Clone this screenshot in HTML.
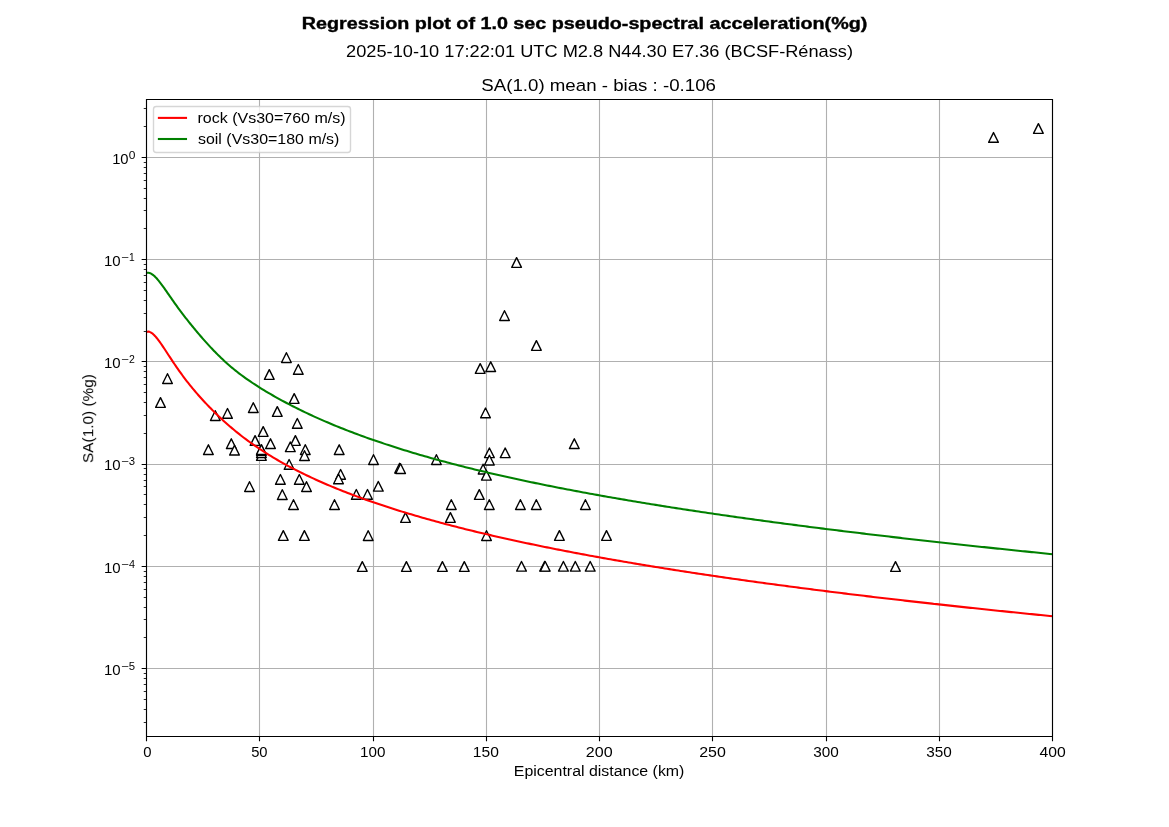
<!DOCTYPE html>
<html><head><meta charset="utf-8"><title>Regression plot</title>
<style>html,body{margin:0;padding:0;background:#fff;width:1169px;height:827px;overflow:hidden}svg{display:block}text{font-family:"Liberation Sans",sans-serif}</style></head><body>
<svg width="1169" height="827" viewBox="0 0 1169 827">
<rect x="0" y="0" width="1169" height="827" fill="#ffffff"/>
<path d="M146.5 99.24V736.03M259.5 99.24V736.03M373.5 99.24V736.03M486.5 99.24V736.03M599.5 99.24V736.03M712.5 99.24V736.03M826.5 99.24V736.03M939.5 99.24V736.03M1052.5 99.24V736.03M146.12 157.5H1052.10M146.12 259.5H1052.10M146.12 361.5H1052.10M146.12 464.5H1052.10M146.12 566.5H1052.10M146.12 668.5H1052.10" stroke="#b0b0b0" stroke-width="1.111" fill="none"/>
<defs><clipPath id="c"><rect x="146.125" y="99.24" width="905.975" height="636.790"/></clipPath>
<path id="m" d="M0 -4.8611L-4.8611 4.8611L4.8611 4.8611Z" fill="#ffffff" stroke="#000000" stroke-width="1.3889" stroke-linejoin="round"/></defs>
<g clip-path="url(#c)"><use href="#m" x="167.5" y="378.6"/><use href="#m" x="160.5" y="402.5"/><use href="#m" x="215.3" y="415.6"/><use href="#m" x="227.5" y="413.4"/><use href="#m" x="253.3" y="407.6"/><use href="#m" x="286.4" y="357.6"/><use href="#m" x="269.3" y="374.5"/><use href="#m" x="298.3" y="369.4"/><use href="#m" x="294.2" y="398.5"/><use href="#m" x="277.3" y="411.5"/><use href="#m" x="297.3" y="423.4"/><use href="#m" x="263.2" y="431.5"/><use href="#m" x="255.1" y="440.5"/><use href="#m" x="270.5" y="443.7"/><use href="#m" x="231.3" y="443.7"/><use href="#m" x="208.4" y="449.7"/><use href="#m" x="234.5" y="450.2"/><use href="#m" x="295.4" y="440.5"/><use href="#m" x="290.3" y="446.8"/><use href="#m" x="261.4" y="455.5"/><use href="#m" x="261.4" y="452.6"/><use href="#m" x="261.4" y="450.5"/><use href="#m" x="261.4" y="449.5"/><use href="#m" x="249.5" y="486.6"/><use href="#m" x="280.4" y="479.4"/><use href="#m" x="299.3" y="479.4"/><use href="#m" x="306.5" y="486.6"/><use href="#m" x="282.3" y="494.6"/><use href="#m" x="293.5" y="504.6"/><use href="#m" x="334.5" y="504.6"/><use href="#m" x="283.3" y="535.5"/><use href="#m" x="304.4" y="535.5"/><use href="#m" x="289.1" y="464.4"/><use href="#m" x="340.6" y="474.4"/><use href="#m" x="338.5" y="478.9"/><use href="#m" x="339.2" y="449.7"/><use href="#m" x="305.3" y="449.6"/><use href="#m" x="304.5" y="455.6"/><use href="#m" x="373.5" y="459.6"/><use href="#m" x="399.6" y="468.2"/><use href="#m" x="400.6" y="468.6"/><use href="#m" x="436.4" y="459.6"/><use href="#m" x="378.3" y="486.3"/><use href="#m" x="356.3" y="494.4"/><use href="#m" x="367.5" y="494.4"/><use href="#m" x="405.5" y="517.5"/><use href="#m" x="451.3" y="504.6"/><use href="#m" x="450.4" y="517.5"/><use href="#m" x="368.2" y="535.6"/><use href="#m" x="362.3" y="566.5"/><use href="#m" x="406.4" y="566.5"/><use href="#m" x="442.4" y="566.5"/><use href="#m" x="464.3" y="566.5"/><use href="#m" x="486.5" y="535.6"/><use href="#m" x="516.6" y="262.5"/><use href="#m" x="504.5" y="315.6"/><use href="#m" x="536.4" y="345.5"/><use href="#m" x="480.2" y="368.5"/><use href="#m" x="490.7" y="366.7"/><use href="#m" x="485.5" y="412.9"/><use href="#m" x="574.3" y="443.7"/><use href="#m" x="505.2" y="452.8"/><use href="#m" x="489.4" y="452.8"/><use href="#m" x="489.4" y="460.1"/><use href="#m" x="483.1" y="469.1"/><use href="#m" x="486.4" y="475.3"/><use href="#m" x="479.3" y="494.5"/><use href="#m" x="489.3" y="504.6"/><use href="#m" x="520.4" y="504.6"/><use href="#m" x="536.3" y="504.6"/><use href="#m" x="585.4" y="504.6"/><use href="#m" x="559.4" y="535.5"/><use href="#m" x="606.5" y="535.5"/><use href="#m" x="521.5" y="566.3"/><use href="#m" x="544.6" y="566.3"/><use href="#m" x="545.2" y="566.3"/><use href="#m" x="563.4" y="566.3"/><use href="#m" x="575.3" y="566.3"/><use href="#m" x="590.2" y="566.3"/><use href="#m" x="895.5" y="566.5"/><use href="#m" x="993.5" y="137.45"/><use href="#m" x="1038.4" y="128.5"/></g>
<path d="M146.12 332.17 L147.26 331.69 L148.39 331.61 L149.52 331.85 L150.65 332.34 L151.79 333.05 L152.92 333.94 L154.05 334.99 L155.18 336.17 L156.32 337.47 L157.45 338.86 L158.58 340.34 L159.71 341.88 L160.85 343.49 L161.98 345.13 L163.11 346.81 L164.24 348.52 L165.38 350.24 L166.51 351.97 L167.64 353.71 L168.77 355.45 L169.91 357.18 L171.04 358.90 L172.17 360.62 L173.30 362.31 L174.44 364.00 L175.57 365.66 L176.70 367.31 L177.83 368.94 L178.97 370.55 L180.10 372.14 L181.23 373.71 L182.36 375.26 L183.50 376.79 L184.63 378.30 L185.76 379.79 L186.89 381.26 L188.03 382.70 L189.16 384.13 L190.29 385.54 L191.42 386.93 L192.56 388.31 L193.69 389.67 L194.82 391.01 L195.95 392.34 L197.09 393.65 L198.22 394.94 L199.35 396.23 L200.48 397.49 L201.62 398.75 L202.75 399.99 L203.88 401.22 L205.01 402.44 L206.15 403.64 L207.28 404.84 L208.41 406.02 L209.54 407.19 L210.68 408.35 L211.81 409.50 L212.94 410.64 L214.07 411.77 L215.21 412.88 L216.34 413.99 L217.47 415.09 L218.60 416.17 L219.74 417.24 L220.87 418.31 L222.00 419.36 L223.13 420.40 L224.27 421.43 L225.40 422.45 L226.53 423.46 L227.66 424.46 L228.80 425.45 L229.93 426.43 L231.06 427.40 L232.19 428.36 L233.33 429.31 L234.46 430.25 L235.59 431.18 L236.72 432.11 L238.99 433.92 L241.25 435.70 L243.52 437.45 L245.78 439.16 L248.05 440.83 L250.31 442.48 L252.58 444.09 L254.84 445.67 L257.11 447.22 L259.37 448.74 L261.64 450.24 L263.90 451.70 L266.17 453.14 L268.43 454.56 L270.70 455.95 L272.96 457.32 L275.23 458.67 L277.49 459.99 L279.76 461.29 L282.02 462.57 L284.29 463.84 L286.55 465.08 L288.82 466.30 L291.08 467.51 L293.35 468.70 L295.61 469.87 L297.88 471.02 L300.14 472.16 L302.41 473.28 L304.67 474.39 L306.94 475.48 L309.20 476.55 L311.47 477.62 L313.73 478.67 L316.00 479.70 L318.26 480.72 L320.53 481.73 L322.79 482.73 L325.06 483.72 L327.32 484.69 L329.58 485.65 L331.85 486.60 L334.11 487.54 L336.38 488.47 L338.64 489.39 L340.91 490.30 L343.17 491.19 L345.44 492.08 L347.70 492.96 L349.97 493.83 L352.23 494.69 L354.50 495.54 L356.76 496.38 L359.03 497.22 L361.29 498.04 L363.56 498.86 L365.82 499.67 L368.09 500.47 L370.35 501.26 L372.62 502.05 L374.88 502.82 L377.15 503.59 L379.41 504.36 L381.68 505.11 L383.94 505.86 L386.21 506.61 L388.47 507.34 L390.74 508.07 L393.00 508.80 L395.27 509.51 L397.53 510.22 L399.80 510.93 L402.06 511.63 L404.33 512.32 L406.59 513.01 L408.86 513.69 L411.12 514.37 L413.39 515.04 L415.65 515.70 L417.92 516.36 L420.18 517.02 L422.45 517.67 L424.71 518.31 L426.98 518.95 L429.24 519.58 L431.51 520.21 L433.77 520.84 L436.04 521.46 L438.30 522.08 L440.57 522.69 L442.83 523.29 L445.10 523.90 L447.36 524.50 L449.63 525.09 L451.89 525.68 L454.16 526.27 L456.42 526.85 L458.69 527.43 L460.95 528.00 L463.22 528.57 L465.48 529.14 L467.75 529.70 L470.01 530.26 L472.28 530.81 L474.54 531.37 L476.81 531.91 L479.07 532.46 L481.34 533.00 L483.60 533.54 L485.87 534.07 L488.13 534.60 L490.40 535.13 L492.66 535.65 L494.93 536.18 L497.19 536.69 L499.46 537.21 L501.72 537.72 L503.99 538.23 L506.25 538.74 L508.51 539.24 L510.78 539.74 L513.04 540.24 L515.31 540.73 L517.57 541.22 L519.84 541.71 L522.10 542.20 L524.37 542.68 L526.63 543.16 L528.90 543.64 L531.16 544.11 L533.43 544.59 L535.69 545.06 L537.96 545.53 L540.22 545.99 L542.49 546.45 L544.75 546.91 L547.02 547.37 L549.28 547.83 L551.55 548.28 L553.81 548.73 L556.08 549.18 L558.34 549.63 L560.61 550.07 L562.87 550.51 L565.14 550.95 L567.40 551.39 L569.67 551.82 L571.93 552.26 L574.20 552.69 L576.46 553.12 L578.73 553.54 L580.99 553.97 L583.26 554.39 L585.52 554.81 L587.79 555.23 L590.05 555.65 L592.32 556.06 L594.58 556.48 L596.85 556.89 L599.11 557.30 L601.38 557.70 L603.64 558.11 L605.91 558.51 L608.17 558.92 L610.44 559.32 L612.70 559.71 L614.97 560.11 L617.23 560.51 L619.50 560.90 L621.76 561.29 L624.03 561.68 L626.29 562.07 L628.56 562.45 L630.82 562.84 L633.09 563.22 L635.35 563.60 L637.62 563.98 L639.88 564.36 L642.15 564.74 L644.41 565.11 L646.68 565.49 L648.94 565.86 L651.21 566.23 L653.47 566.60 L655.74 566.97 L658.00 567.33 L660.27 567.70 L662.53 568.06 L664.80 568.42 L667.06 568.79 L669.33 569.14 L671.59 569.50 L673.86 569.86 L676.12 570.21 L678.39 570.57 L680.65 570.92 L682.92 571.27 L685.18 571.62 L687.45 571.97 L689.71 572.32 L691.97 572.66 L694.24 573.01 L696.50 573.35 L698.77 573.69 L701.03 574.03 L703.30 574.37 L705.56 574.71 L707.83 575.05 L710.09 575.38 L712.36 575.72 L714.62 576.05 L716.89 576.38 L719.15 576.71 L721.42 577.04 L723.68 577.37 L725.95 577.70 L728.21 578.03 L730.48 578.35 L732.74 578.67 L735.01 579.00 L737.27 579.32 L739.54 579.64 L741.80 579.96 L744.07 580.28 L746.33 580.60 L748.60 580.91 L750.86 581.23 L753.13 581.54 L755.39 581.86 L757.66 582.17 L759.92 582.48 L762.19 582.79 L764.45 583.10 L766.72 583.41 L768.98 583.72 L771.25 584.02 L773.51 584.33 L775.78 584.63 L778.04 584.94 L780.31 585.24 L782.57 585.54 L784.84 585.84 L787.10 586.14 L789.37 586.44 L791.63 586.74 L793.90 587.04 L796.16 587.33 L798.43 587.63 L800.69 587.92 L802.96 588.22 L805.22 588.51 L807.49 588.80 L809.75 589.09 L812.02 589.38 L814.28 589.67 L816.55 589.96 L818.81 590.25 L821.08 590.53 L823.34 590.82 L825.61 591.10 L827.87 591.39 L830.14 591.67 L832.40 591.95 L834.67 592.24 L836.93 592.52 L839.20 592.80 L841.46 593.08 L843.73 593.35 L845.99 593.63 L848.26 593.91 L850.52 594.19 L852.79 594.46 L855.05 594.74 L857.32 595.01 L859.58 595.28 L861.85 595.56 L864.11 595.83 L866.38 596.10 L868.64 596.37 L870.90 596.64 L873.17 596.91 L875.43 597.17 L877.70 597.44 L879.96 597.71 L882.23 597.97 L884.49 598.24 L886.76 598.50 L889.02 598.77 L891.29 599.03 L893.55 599.29 L895.82 599.56 L898.08 599.82 L900.35 600.08 L902.61 600.34 L904.88 600.60 L907.14 600.85 L909.41 601.11 L911.67 601.37 L913.94 601.63 L916.20 601.88 L918.47 602.14 L920.73 602.39 L923.00 602.65 L925.26 602.90 L927.53 603.15 L929.79 603.40 L932.06 603.65 L934.32 603.91 L936.59 604.16 L938.85 604.41 L941.12 604.65 L943.38 604.90 L945.65 605.15 L947.91 605.40 L950.18 605.64 L952.44 605.89 L954.71 606.14 L956.97 606.38 L959.24 606.63 L961.50 606.87 L963.77 607.11 L966.03 607.35 L968.30 607.60 L970.56 607.84 L972.83 608.08 L975.09 608.32 L977.36 608.56 L979.62 608.80 L981.89 609.04 L984.15 609.28 L986.42 609.51 L988.68 609.75 L990.95 609.99 L993.21 610.22 L995.48 610.46 L997.74 610.69 L1000.01 610.93 L1002.27 611.16 L1004.54 611.40 L1006.80 611.63 L1009.07 611.86 L1011.33 612.09 L1013.60 612.32 L1015.86 612.55 L1018.13 612.78 L1020.39 613.01 L1022.66 613.24 L1024.92 613.47 L1027.19 613.70 L1029.45 613.93 L1031.72 614.16 L1033.98 614.38 L1036.25 614.61 L1038.51 614.84 L1040.78 615.06 L1043.04 615.29 L1045.31 615.51 L1047.57 615.74 L1049.84 615.96 L1052.10 616.18" stroke="#ff0000" stroke-width="2.083" fill="none" stroke-linecap="square" stroke-linejoin="round" clip-path="url(#c)"/>
<path d="M146.12 273.05 L147.26 272.72 L148.39 272.70 L149.52 272.94 L150.65 273.40 L151.79 274.05 L152.92 274.86 L154.05 275.80 L155.18 276.87 L156.32 278.04 L157.45 279.30 L158.58 280.65 L159.71 282.06 L160.85 283.53 L161.98 285.04 L163.11 286.60 L164.24 288.18 L165.38 289.78 L166.51 291.41 L167.64 293.04 L168.77 294.68 L169.91 296.32 L171.04 297.95 L172.17 299.58 L173.30 301.19 L174.44 302.80 L175.57 304.39 L176.70 305.96 L177.83 307.52 L178.97 309.06 L180.10 310.59 L181.23 312.10 L182.36 313.60 L183.50 315.09 L184.63 316.56 L185.76 318.02 L186.89 319.47 L188.03 320.90 L189.16 322.33 L190.29 323.74 L191.42 325.14 L192.56 326.53 L193.69 327.91 L194.82 329.27 L195.95 330.63 L197.09 331.98 L198.22 333.32 L199.35 334.65 L200.48 335.97 L201.62 337.28 L202.75 338.58 L203.88 339.86 L205.01 341.14 L206.15 342.41 L207.28 343.66 L208.41 344.90 L209.54 346.13 L210.68 347.35 L211.81 348.55 L212.94 349.74 L214.07 350.92 L215.21 352.08 L216.34 353.23 L217.47 354.37 L218.60 355.50 L219.74 356.61 L220.87 357.71 L222.00 358.79 L223.13 359.86 L224.27 360.91 L225.40 361.95 L226.53 362.98 L227.66 363.99 L228.80 364.98 L229.93 365.96 L231.06 366.93 L232.19 367.88 L233.33 368.81 L234.46 369.74 L235.59 370.65 L236.72 371.55 L238.99 373.31 L241.25 375.02 L243.52 376.70 L245.78 378.33 L248.05 379.92 L250.31 381.48 L252.58 383.00 L254.84 384.49 L257.11 385.95 L259.37 387.38 L261.64 388.79 L263.90 390.17 L266.17 391.54 L268.43 392.88 L270.70 394.21 L272.96 395.52 L275.23 396.81 L277.49 398.08 L279.76 399.33 L282.02 400.57 L284.29 401.79 L286.55 403.00 L288.82 404.19 L291.08 405.36 L293.35 406.52 L295.61 407.66 L297.88 408.79 L300.14 409.91 L302.41 411.01 L304.67 412.10 L306.94 413.18 L309.20 414.24 L311.47 415.29 L313.73 416.33 L316.00 417.36 L318.26 418.37 L320.53 419.38 L322.79 420.37 L325.06 421.35 L327.32 422.32 L329.58 423.28 L331.85 424.23 L334.11 425.17 L336.38 426.10 L338.64 427.02 L340.91 427.93 L343.17 428.83 L345.44 429.72 L347.70 430.60 L349.97 431.48 L352.23 432.34 L354.50 433.20 L356.76 434.05 L359.03 434.89 L361.29 435.72 L363.56 436.54 L365.82 437.36 L368.09 438.16 L370.35 438.97 L372.62 439.76 L374.88 440.54 L377.15 441.32 L379.41 442.09 L381.68 442.86 L383.94 443.62 L386.21 444.37 L388.47 445.11 L390.74 445.85 L393.00 446.58 L395.27 447.31 L397.53 448.03 L399.80 448.74 L402.06 449.45 L404.33 450.15 L406.59 450.84 L408.86 451.53 L411.12 452.22 L413.39 452.90 L415.65 453.57 L417.92 454.24 L420.18 454.90 L422.45 455.56 L424.71 456.21 L426.98 456.86 L429.24 457.50 L431.51 458.14 L433.77 458.77 L436.04 459.40 L438.30 460.02 L440.57 460.64 L442.83 461.25 L445.10 461.86 L447.36 462.46 L449.63 463.06 L451.89 463.66 L454.16 464.25 L456.42 464.84 L458.69 465.42 L460.95 466.00 L463.22 466.58 L465.48 467.15 L467.75 467.71 L470.01 468.28 L472.28 468.83 L474.54 469.39 L476.81 469.94 L479.07 470.49 L481.34 471.03 L483.60 471.57 L485.87 472.11 L488.13 472.64 L490.40 473.17 L492.66 473.70 L494.93 474.22 L497.19 474.74 L499.46 475.26 L501.72 475.77 L503.99 476.28 L506.25 476.79 L508.51 477.29 L510.78 477.79 L513.04 478.29 L515.31 478.79 L517.57 479.28 L519.84 479.77 L522.10 480.25 L524.37 480.74 L526.63 481.22 L528.90 481.69 L531.16 482.17 L533.43 482.64 L535.69 483.11 L537.96 483.58 L540.22 484.04 L542.49 484.50 L544.75 484.96 L547.02 485.42 L549.28 485.87 L551.55 486.32 L553.81 486.77 L556.08 487.22 L558.34 487.67 L560.61 488.11 L562.87 488.55 L565.14 488.99 L567.40 489.42 L569.67 489.85 L571.93 490.29 L574.20 490.71 L576.46 491.14 L578.73 491.57 L580.99 491.99 L583.26 492.41 L585.52 492.83 L587.79 493.24 L590.05 493.66 L592.32 494.07 L594.58 494.48 L596.85 494.89 L599.11 495.30 L601.38 495.70 L603.64 496.11 L605.91 496.51 L608.17 496.91 L610.44 497.30 L612.70 497.70 L614.97 498.09 L617.23 498.49 L619.50 498.88 L621.76 499.26 L624.03 499.65 L626.29 500.04 L628.56 500.42 L630.82 500.80 L633.09 501.18 L635.35 501.56 L637.62 501.94 L639.88 502.32 L642.15 502.69 L644.41 503.06 L646.68 503.43 L648.94 503.80 L651.21 504.17 L653.47 504.54 L655.74 504.90 L658.00 505.27 L660.27 505.63 L662.53 505.99 L664.80 506.35 L667.06 506.71 L669.33 507.06 L671.59 507.42 L673.86 507.77 L676.12 508.13 L678.39 508.48 L680.65 508.83 L682.92 509.18 L685.18 509.52 L687.45 509.87 L689.71 510.21 L691.97 510.56 L694.24 510.90 L696.50 511.24 L698.77 511.58 L701.03 511.92 L703.30 512.26 L705.56 512.59 L707.83 512.93 L710.09 513.26 L712.36 513.59 L714.62 513.92 L716.89 514.25 L719.15 514.58 L721.42 514.91 L723.68 515.24 L725.95 515.56 L728.21 515.89 L730.48 516.21 L732.74 516.53 L735.01 516.85 L737.27 517.17 L739.54 517.49 L741.80 517.81 L744.07 518.13 L746.33 518.45 L748.60 518.76 L750.86 519.07 L753.13 519.39 L755.39 519.70 L757.66 520.01 L759.92 520.32 L762.19 520.63 L764.45 520.94 L766.72 521.25 L768.98 521.55 L771.25 521.86 L773.51 522.16 L775.78 522.46 L778.04 522.77 L780.31 523.07 L782.57 523.37 L784.84 523.67 L787.10 523.97 L789.37 524.27 L791.63 524.56 L793.90 524.86 L796.16 525.15 L798.43 525.45 L800.69 525.74 L802.96 526.03 L805.22 526.33 L807.49 526.62 L809.75 526.91 L812.02 527.20 L814.28 527.49 L816.55 527.77 L818.81 528.06 L821.08 528.35 L823.34 528.63 L825.61 528.92 L827.87 529.20 L830.14 529.48 L832.40 529.77 L834.67 530.05 L836.93 530.33 L839.20 530.61 L841.46 530.89 L843.73 531.17 L845.99 531.44 L848.26 531.72 L850.52 532.00 L852.79 532.27 L855.05 532.55 L857.32 532.82 L859.58 533.09 L861.85 533.37 L864.11 533.64 L866.38 533.91 L868.64 534.18 L870.90 534.45 L873.17 534.72 L875.43 534.99 L877.70 535.26 L879.96 535.52 L882.23 535.79 L884.49 536.06 L886.76 536.32 L889.02 536.59 L891.29 536.85 L893.55 537.11 L895.82 537.38 L898.08 537.64 L900.35 537.90 L902.61 538.16 L904.88 538.42 L907.14 538.68 L909.41 538.94 L911.67 539.20 L913.94 539.45 L916.20 539.71 L918.47 539.97 L920.73 540.22 L923.00 540.48 L925.26 540.73 L927.53 540.99 L929.79 541.24 L932.06 541.49 L934.32 541.75 L936.59 542.00 L938.85 542.25 L941.12 542.50 L943.38 542.75 L945.65 543.00 L947.91 543.25 L950.18 543.50 L952.44 543.74 L954.71 543.99 L956.97 544.24 L959.24 544.48 L961.50 544.73 L963.77 544.98 L966.03 545.22 L968.30 545.46 L970.56 545.71 L972.83 545.95 L975.09 546.19 L977.36 546.43 L979.62 546.68 L981.89 546.92 L984.15 547.16 L986.42 547.40 L988.68 547.64 L990.95 547.88 L993.21 548.11 L995.48 548.35 L997.74 548.59 L1000.01 548.83 L1002.27 549.06 L1004.54 549.30 L1006.80 549.54 L1009.07 549.77 L1011.33 550.00 L1013.60 550.24 L1015.86 550.47 L1018.13 550.71 L1020.39 550.94 L1022.66 551.17 L1024.92 551.40 L1027.19 551.63 L1029.45 551.86 L1031.72 552.10 L1033.98 552.33 L1036.25 552.55 L1038.51 552.78 L1040.78 553.01 L1043.04 553.24 L1045.31 553.47 L1047.57 553.70 L1049.84 553.92 L1052.10 554.15" stroke="#008000" stroke-width="2.083" fill="none" stroke-linecap="square" stroke-linejoin="round" clip-path="url(#c)"/>
<path d="M146.5 736.5V99.5M1052.5 736.5V99.5M146.5 736.5H1052.5M146.5 99.5H1052.5" stroke="#000" stroke-width="1.111" fill="none" stroke-linecap="square"/>
<path d="M146.5 736.5v4.86M259.5 736.5v4.86M373.5 736.5v4.86M486.5 736.5v4.86M599.5 736.5v4.86M712.5 736.5v4.86M826.5 736.5v4.86M939.5 736.5v4.86M1052.5 736.5v4.86M146.5 157.5h-4.86M146.5 259.5h-4.86M146.5 361.5h-4.86M146.5 464.5h-4.86M146.5 566.5h-4.86M146.5 668.5h-4.86" stroke="#000" stroke-width="1.111" fill="none"/>
<path d="M146.5 722.5h-2.78M146.5 709.5h-2.78M146.5 699.5h-2.78M146.5 691.5h-2.78M146.5 684.5h-2.78M146.5 678.5h-2.78M146.5 673.5h-2.78M146.5 637.5h-2.78M146.5 619.5h-2.78M146.5 607.5h-2.78M146.5 597.5h-2.78M146.5 589.5h-2.78M146.5 582.5h-2.78M146.5 576.5h-2.78M146.5 571.5h-2.78M146.5 535.5h-2.78M146.5 517.5h-2.78M146.5 504.5h-2.78M146.5 494.5h-2.78M146.5 486.5h-2.78M146.5 480.5h-2.78M146.5 474.5h-2.78M146.5 468.5h-2.78M146.5 433.5h-2.78M146.5 415.5h-2.78M146.5 402.5h-2.78M146.5 392.5h-2.78M146.5 384.5h-2.78M146.5 377.5h-2.78M146.5 371.5h-2.78M146.5 366.5h-2.78M146.5 331.5h-2.78M146.5 313.5h-2.78M146.5 300.5h-2.78M146.5 290.5h-2.78M146.5 282.5h-2.78M146.5 275.5h-2.78M146.5 269.5h-2.78M146.5 264.5h-2.78M146.5 228.5h-2.78M146.5 210.5h-2.78M146.5 198.5h-2.78M146.5 188.5h-2.78M146.5 180.5h-2.78M146.5 173.5h-2.78M146.5 167.5h-2.78M146.5 162.5h-2.78M146.5 126.5h-2.78M146.5 108.5h-2.78" stroke="#000" stroke-width="0.833" fill="none"/>
<rect x="153.5" y="106.5" width="197.00" height="46.00" rx="2.78" ry="2.78" fill="#ffffff" fill-opacity="0.8" stroke="#cccccc" stroke-opacity="0.8" stroke-width="1.389"/>
<path d="M158.9 117.9H186.0" stroke="#ff0000" stroke-width="2.083" stroke-linecap="square"/>
<path d="M158.9 139.0H186.0" stroke="#008000" stroke-width="2.083" stroke-linecap="square"/>
<g fill="#000000" style="will-change:transform">
<text x="301.87" y="29" font-size="17.167px" font-weight="bold" stroke="#000" stroke-width="0.4" textLength="565.43" lengthAdjust="spacingAndGlyphs">Regression plot of 1.0 sec pseudo-spectral acceleration(%g)</text>
<text x="346.09" y="57" font-size="17.167px" textLength="506.94" lengthAdjust="spacingAndGlyphs">2025-10-10 17:22:01 UTC M2.8 N44.30 E7.36 (BCSF-Rénass)</text>
<text x="481.26" y="91" font-size="17.167px" textLength="234.74" lengthAdjust="spacingAndGlyphs">SA(1.0) mean - bias : -0.106</text>
<text x="197.51" y="123" font-size="14.722px" textLength="147.98" lengthAdjust="spacingAndGlyphs">rock (Vs30=760 m/s)</text>
<text x="197.95" y="144" font-size="14.722px" textLength="141.48" lengthAdjust="spacingAndGlyphs">soil (Vs30=180 m/s)</text>
<text x="513.78" y="776" font-size="14.722px" textLength="170.65" lengthAdjust="spacingAndGlyphs">Epicentral distance (km)</text>
<text x="93.1" y="462.93" font-size="14.722px" transform="rotate(-90 93.1 462.93)" textLength="88.75" lengthAdjust="spacingAndGlyphs">SA(1.0) (%g)</text>
<text x="143.37" y="757" font-size="14.722px" textLength="8.28" lengthAdjust="spacingAndGlyphs">0</text>
<text x="251.17" y="757" font-size="14.722px" textLength="16.42" lengthAdjust="spacingAndGlyphs">50</text>
<text x="360.12" y="757" font-size="14.722px" textLength="25.38" lengthAdjust="spacingAndGlyphs">100</text>
<text x="472.79" y="757" font-size="14.722px" textLength="26.03" lengthAdjust="spacingAndGlyphs">150</text>
<text x="585.89" y="757" font-size="14.722px" textLength="26.85" lengthAdjust="spacingAndGlyphs">200</text>
<text x="699.20" y="757" font-size="14.722px" textLength="26.64" lengthAdjust="spacingAndGlyphs">250</text>
<text x="813.23" y="757" font-size="14.722px" textLength="25.57" lengthAdjust="spacingAndGlyphs">300</text>
<text x="926.23" y="757" font-size="14.722px" textLength="25.57" lengthAdjust="spacingAndGlyphs">350</text>
<text x="1039.61" y="757" font-size="14.722px" textLength="26.21" lengthAdjust="spacingAndGlyphs">400</text>
<text x="112.15" y="164" font-size="14.722px" textLength="16.44" lengthAdjust="spacingAndGlyphs">10</text>
<text x="128.77" y="159" font-size="10.306px" textLength="6.66" lengthAdjust="spacingAndGlyphs">0</text>
<text x="103.93" y="266" font-size="14.722px" textLength="16.66" lengthAdjust="spacingAndGlyphs">10</text>
<text x="120.93" y="261" font-size="10.306px" textLength="7.70" lengthAdjust="spacingAndGlyphs">−</text>
<text x="129.07" y="261" font-size="10.306px" textLength="5.70" lengthAdjust="spacingAndGlyphs">1</text>
<text x="103.93" y="368" font-size="14.722px" textLength="16.66" lengthAdjust="spacingAndGlyphs">10</text>
<text x="120.93" y="363" font-size="10.306px" textLength="7.70" lengthAdjust="spacingAndGlyphs">−</text>
<text x="128.95" y="363" font-size="10.306px" textLength="5.84" lengthAdjust="spacingAndGlyphs">2</text>
<text x="103.93" y="470" font-size="14.722px" textLength="16.66" lengthAdjust="spacingAndGlyphs">10</text>
<text x="120.93" y="465" font-size="10.306px" textLength="7.70" lengthAdjust="spacingAndGlyphs">−</text>
<text x="128.84" y="465" font-size="10.306px" textLength="6.31" lengthAdjust="spacingAndGlyphs">3</text>
<text x="103.93" y="573" font-size="14.722px" textLength="16.66" lengthAdjust="spacingAndGlyphs">10</text>
<text x="120.93" y="568" font-size="10.306px" textLength="7.70" lengthAdjust="spacingAndGlyphs">−</text>
<text x="129.02" y="568" font-size="10.306px" textLength="6.03" lengthAdjust="spacingAndGlyphs">4</text>
<text x="103.93" y="675" font-size="14.722px" textLength="16.66" lengthAdjust="spacingAndGlyphs">10</text>
<text x="120.93" y="670" font-size="10.306px" textLength="7.70" lengthAdjust="spacingAndGlyphs">−</text>
<text x="128.82" y="670" font-size="10.306px" textLength="6.31" lengthAdjust="spacingAndGlyphs">5</text>
</g></svg></body></html>
